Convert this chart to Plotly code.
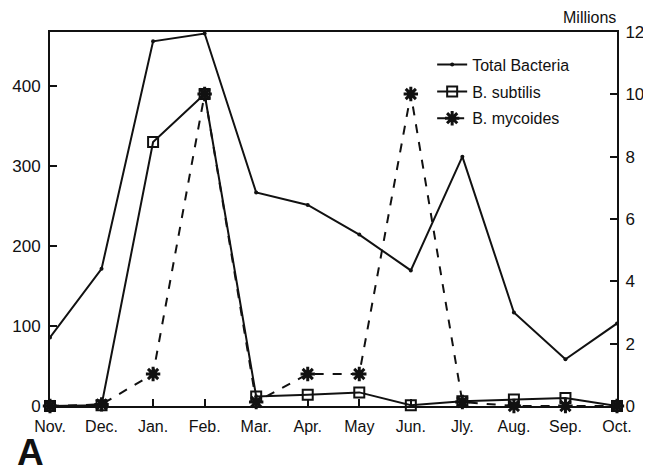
import plotly.graph_objects as go

months = ["Nov.", "Dec.", "Jan.", "Feb.", "Mar.", "Apr.", "May", "Jun.", "Jly.", "Aug.", "Sep.", "Oct."]
total_bacteria_millions = [2.2, 4.4, 11.7, 11.95, 6.85, 6.45, 5.5, 4.35, 8.0, 3.0, 1.5, 2.65]
b_subtilis = [0, 1, 330, 390, 12, 14, 17, 1, 6, 8, 10, 0]
b_mycoides = [0, 2, 40, 390, 5, 40, 40, 390, 5, 0, 0, 0]
left_ticks = [0, 100, 200, 300, 400]
right_ticks = [0, 2, 4, 6, 8, 10, 12]

INK = "#111111"
FONT = "Liberation Sans, Arial, Helvetica, sans-serif"

fig = go.Figure()
fig.add_trace(go.Scatter(
    x=months, y=total_bacteria_millions, name="Total Bacteria", yaxis="y2",
    mode="lines+markers", line=dict(color=INK, width=2),
    marker=dict(symbol="circle", size=4, color=INK), cliponaxis=False,
    legendgroup="a"))
fig.add_trace(go.Scatter(
    x=months, y=b_subtilis, name="B. subtilis",
    mode="lines+markers", line=dict(color=INK, width=2),
    marker=dict(symbol="square-open", size=10, color=INK, line=dict(width=2, color=INK)),
    cliponaxis=False, legendgroup="b"))
fig.add_trace(go.Scatter(
    x=months, y=b_mycoides, name="B. mycoides",
    mode="lines+markers", line=dict(color=INK, width=2, dash="dash"),
    marker=dict(symbol="asterisk-open", size=12, color=INK, line=dict(width=3, color=INK)),
    cliponaxis=False, legendgroup="c"))

axis_common = dict(showline=True, linecolor=INK, linewidth=2, ticks="inside",
                   tickcolor=INK, tickwidth=2, ticklen=7, showgrid=False, zeroline=False,
                   automargin=False,
                   tickfont=dict(family=FONT, size=17, color=INK))

fig.update_layout(
    width=643, height=467,
    margin=dict(l=42, r=34, t=24, b=69),
    paper_bgcolor="white", plot_bgcolor="white",
    font=dict(family=FONT, color=INK),
    showlegend=True,
    legend=dict(x=0.674, y=0.958, xanchor="left", yanchor="top",
                bgcolor="rgba(0,0,0,0)", font=dict(family=FONT, size=16, color=INK),
                tracegroupgap=3),
    xaxis=dict(type="category", categoryorder="array", categoryarray=months,
               range=[0, 11], mirror=True, ticklabelstandoff=5, **axis_common),
    yaxis=dict(range=[0, 467.5], tickvals=left_ticks, ticklabelstandoff=4, **axis_common),
    yaxis2=dict(range=[0, 12], tickvals=right_ticks, overlaying="y", side="right",
                ticklabelstandoff=3, **axis_common),
    annotations=[
        dict(text="Millions", xref="paper", yref="paper", x=0.952, y=1.01,
             xanchor="center", yanchor="bottom", showarrow=False,
             font=dict(family=FONT, size=16, color=INK)),
        dict(text="<b>A</b>", xref="paper", yref="paper", x=-0.06, y=-0.182,
             xanchor="left", yanchor="bottom", showarrow=False, borderpad=0,
             font=dict(family=FONT, size=37, color=INK)),
    ],
)
fig.update_xaxes(tickfont=dict(size=16))

fig.write_html("out.html")
